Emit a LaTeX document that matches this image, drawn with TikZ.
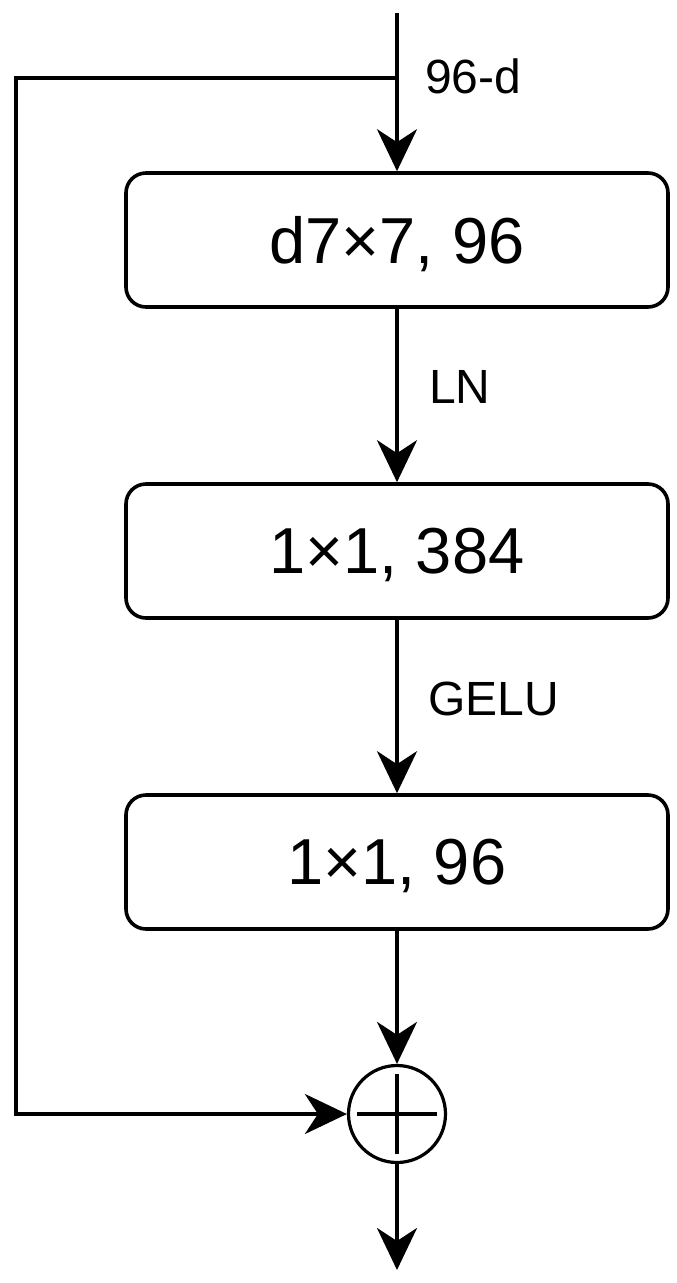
\documentclass[tikz,border=0pt]{standalone}
\usepackage{fontspec}
\setmainfont{Liberation Sans}
\usetikzlibrary{arrows.meta}
\begin{document}
\begin{tikzpicture}[x=1pt,y=-1pt,
  conn/.style={line width=3.6pt,-{Stealth[length=42pt,width=40pt,inset=13pt]}},
  blk/.style={draw,line width=3.6pt,rounded corners=20pt,minimum width=542pt,minimum height=134pt,inner sep=0pt,text depth=0pt,font=\fontsize{65}{72}\selectfont},
  lbl/.style={anchor=base west,inner sep=0pt,font=\fontsize{48}{56}\selectfont}]
\useasboundingbox (0,0) rectangle (677,1283);
\coordinate (top) at (397,13);
\coordinate (split) at (397,78);
\coordinate (lt) at (16,78);
\coordinate (lb) at (16,1114);
\coordinate (out) at (397,1270);
\node[blk] (b1) at (397,240) {d7×7, 96};
\node[blk] (b2) at (397,551) {1×1, 384};
\node[blk] (b3) at (397,862) {1×1, 96};
\node[draw,circle,line width=3.2pt,minimum size=97pt,inner sep=0pt] (add) at (397,1114) {};
\draw[line width=3.2pt] ([xshift=-40pt]add.center) -- ([xshift=40pt]add.center);
\draw[line width=3.2pt] ([yshift=-40pt]add.center) -- ([yshift=40pt]add.center);
\draw[conn] (top) -- (b1.north);
\draw[conn] (b1.south) -- (b2.north);
\draw[conn] (b2.south) -- (b3.north);
\draw[conn] (b3.south) -- (add.north);
\draw[conn] (add.south) -- (out);
\draw[conn] (split) -- (lt) -- (lb) -- (add.west);
\node[lbl] (l1) at (425,93) {96-d};
\node[lbl] (l2) at (429,403) {LN};
\node[lbl] (l3) at (428,715) {GELU};
\end{tikzpicture}
\end{document}
